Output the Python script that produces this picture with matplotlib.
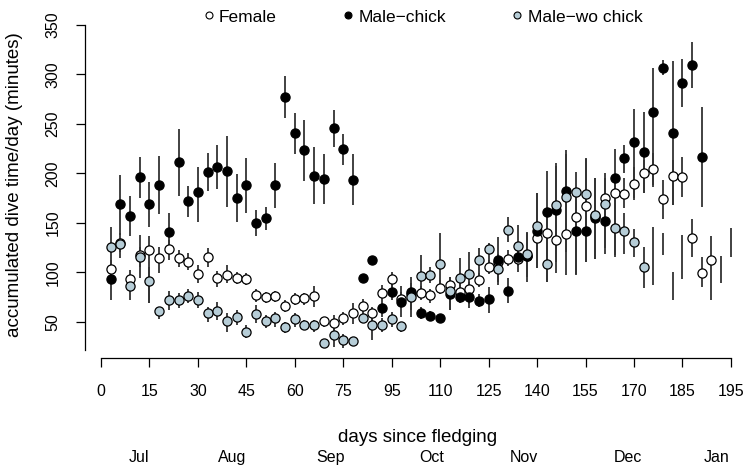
import numpy as np
import matplotlib
matplotlib.use("Agg")
import matplotlib.pyplot as plt
from matplotlib.lines import Line2D

plt.rcParams['font.family'] = ['Liberation Sans', 'DejaVu Sans']

nan = np.nan
days = list(range(3, 198, 3))

female_mean = [103.0, 130, 92.9, 117.5, 122.5, 114.1, 123.5, 114.1, 110.7, 98.6, 115.4, 94.2, 97.3, 94.5, 93.6,
               76.7, 75.3, 76.4, 66.2, 72.7, 73.7, 75.7, 50.7, 49.1, 54.1, 58.5, 65.9, 58.5, 78.7, 92.9, 72.7,
               78, 78.7, 77, 84.4, 87.1, 80.4, 82.8, 92.2, 105.7, 110, 113.8, 113, 116, 135, 140, 132.3, 138.4,
               155.6, 167.3, 157, 175.4, 179.8, 179.1, 188.9, 200.7, 204.1, 173.7, 197.7, 196.7, 134.3, 99.6,
               112.4, nan, nan]
female_lo = [92.2, 120, 85.5, 105.7, 68.6, 98.9, 112.4, 105.7, 102.3, 88.8, 105.7, 85.5, 88.8, 87.8, 87.1,
             70.3, 69.3, 70.3, 60.2, 66.9, 66.9, 64.6, 45, 41.6, 46.7, 47.7, 58.5, 50, 70.3, 85.5, 65,
             72, 72, 69.3, 78, 61.9, 74, 76, 85, 98, 104, 106, 106, 108, 120, 125, 118, 128,
             140, 150, 145, 160, 165, 165, 173, 179.8, 186.5, 153.6, 168, 176.4, 115.1, 85.5,
             72, nan, nan]
female_hi = [112.4, 140, 102.3, 125.9, 136.7, 125.9, 132.6, 122.5, 119.1, 107.4, 124.2, 101.6, 107.4, 100.6, 99,
             82.8, 80.4, 81.4, 72, 78.7, 79.4, 86.1, 55.1, 56.8, 60.2, 69.3, 72.7, 64.6, 87.1, 100.6, 80,
             85, 86, 82.8, 92, 95.6, 88, 90, 99, 112, 118, 122, 120, 124, 150, 158, 148, 150,
             170, 185, 170, 190, 195, 195, 206.8, 213.5, 220.3, 193.3, 213.5, 216.9, 153.5, 115.1,
             136.7, nan, nan]

chick_mean = [93.5, 169, 157.2, 196, 169, 188.2, 141, 211.2, 171.7, 181.2, 201.4, 206.4, 202.1, 175.4, 187.9,
              149.8, 154.5, 188.2, 277.2, 240.5, 223.6, 197.7, 194, 245.5, 224.3, 193.6, 93.9, 112.4, 64.2,
              80.4, 70.3, 80.4, 59.2, 56.1, 53.4, 78, 75.3, 74.7, 71, 72.7, 112.4, 81.4, 115.1, 116.5, 142,
              161.3, 163, 182.5, 141.7, 141.7, 154.6, 151.8, 195.6, 215.2, 231.4, 221.3, 262.4, 306.2, 241.1,
              291, 309.6, 216.9, nan, nan, nan]
chick_lo = [72, 137.7, 136.7, 174.8, 146, 159, 122.5, 177.5, 155.6, 151, 182.2, 183.9, 165.7, 151, 160.3,
            136.7, 142.7, 164.6, 255.6, 219.6, 192.6, 168.7, 168.7, 226.3, 208.5, 168, nan, nan, 55,
            72, 55.1, 62, 53, 51, 50, 70, 68.6, 68, 65, 58.5, 87.1, 68.6, 100, 95, 104,
            90.5, 110, 97.3, 98, 110, 113, 118, 115.8, 200, 174.8, 179.8, 188.2, 299.5, 168,
            266.8, 286, 166.3, nan, nan, nan]
chick_hi = [110, 198.3, 177, 216.9, 191, 217.6, 159.6, 244.8, 187.5, 206.8, 220.3, 228.7, 237.8, 199.4, 215.2,
            163, 166.3, 210.8, 298.4, 260.7, 254, 226.3, 219.6, 264.1, 239.8, 219.6, nan, nan, 70,
            90, 86.1, 95, 65, 61, 57, 86, 81.4, 80, 78, 85.5, 136, 93.9, 130, 140, 180,
            202.4, 210, 223.6, 180, 215, 195, 200, 224.3, 228.7, 264.7, 262.4, 306.2, 314.6, 313.9,
            315.3, 333.1, 267.4, nan, nan, nan]

wo_mean = [125.9, 128.6, 86.5, 115.8, 91.2, 60.8, 72, 72, 76, 72, 59.2, 60.5, 51.1, 55.1, 40,
           57.5, 50.7, 53.4, 44.3, 52.4, 46.7, 46.7, 28.2, 36.6, 31.5, 30.5, 54.1, 46.7, 46.7, 52.4, 45.7,
           74.7, 96.2, 97.2, 108.4, 81.4, 93.9, 97.9, 112.4, 123.5, 103.6, 142.7, 126.9, 118.5, 146.8,
           108.4, 168, 175.8, 180.8, 178.8, 157.9, 169, 144.4, 142, 130.6, 105,
           nan, nan, nan, nan, nan, nan, nan, nan, nan]
wo_lo = [105.7, 114, 72, 93.9, 68.6, 52.4, 61.9, 63.5, 68.6, 63.5, 50, 51.7, 40, 46.7, 33.2,
         48.4, 43.4, 45, 38.3, 45, 41.6, 40, nan, 24.8, 23.1, nan, 49, 31.5, 40, 45, 40,
         55, 75.3, 88.8, 85.5, 62, 75.3, 63.5, 97.2, 105.7, 90, 130.9, 112.4, 90.5, 104,
         90, 99, 120, 97, 110, 113, 125, 117, 118, 115.8, 83.8,
         87.1, 117.5, 72, 92.9, nan, nan, nan, 89.5, 115.1]
wo_hi = [146, 134, 94, 137.7, 105.7, 65.2, 81.4, 79.4, 82.8, 80.4, 65.2, 70.3, 58.5, 61.9, 46.7,
         66.9, 56.8, 60.2, 50.1, 59.2, 51.7, 51.7, nan, 45, 37.9, nan, 59, 53.4, 53.4, 60.2, 50,
         89, 117.5, 105.7, 139.4, 95, 114.1, 120.8, 124.2, 129.9, 118, 155.6, 147.8, 141, 179.8,
         125, 207.4, 220, 201.7, 215.2, 195.6, 195, 170, 160, 143.4, 125.9,
         146, 140, 100, 137.7, nan, nan, nan, 116.5, 144.4]

series_names = ["Female", "Male\u2212chick", "Male\u2212wo chick"]
series_colors = ["white", "black", "#b6cdd7"]

tick_pos = list(range(0, 196, 15))
tick_labels = ["0", "15", "30", "45", "60", "75", "95", "110", "125", "140", "155", "170", "185", "195"]
month_names = ["Jul", "Aug", "Sep", "Oct", "Nov", "Dec", "Jan"]
month_pos = [11.7, 40.6, 71, 102.5, 130.8, 163, 190.5]

W, H = 750, 473
fig = plt.figure(figsize=(W / 100, H / 100), dpi=100)
# axes box in pixels
px_l, px_r, px_t, px_b = 85, 745, 15, 350
ax = fig.add_axes([px_l / W, 1 - px_b / H, (px_r - px_l) / W, (px_b - px_t) / H])

x_per_px = 1 / 3.23
ax.set_xlim((px_l - 101) * x_per_px, (px_r - 101) * x_per_px)
ax.set_ylim(350 - (px_b - 25) / 0.989, 350 - (px_t - 25) / 0.989)

d = np.array(days, dtype=float)
allseries = [(female_mean, female_lo, female_hi), (chick_mean, chick_lo, chick_hi), (wo_mean, wo_lo, wo_hi)]
bar_color = "#333333"
for m, lo, hi in allseries:
    lo = np.array(lo, dtype=float)
    hi = np.array(hi, dtype=float)
    ok = ~np.isnan(lo)
    ax.vlines(d[ok], lo[ok], hi[ok], colors=bar_color, lw=1.3, zorder=2)
for (m, lo, hi), c in zip(allseries, series_colors):
    ax.plot(d, np.array(m, dtype=float), linestyle="none", marker="o", ms=6.6,
            mfc=c, mec="black", mew=0.9, zorder=3)

for s in ["top", "right"]:
    ax.spines[s].set_visible(False)
ax.spines["left"].set_bounds(ax.get_ylim()[0], 350)
ax.spines["bottom"].set_position(("outward", 6))
ax.spines["bottom"].set_bounds(0, 195)
for s in ["left", "bottom"]:
    ax.spines[s].set_linewidth(0.9)

ax.set_yticks([50, 100, 150, 200, 250, 300, 350])
ax.set_yticklabels(["50", "100", "150", "200", "250", "300", "350"], rotation=90, va="center")
ax.set_xticks(tick_pos)
ax.set_xticklabels(tick_labels)
ax.tick_params(axis="y", length=6.5, width=0.9, pad=11, labelsize=11.5)
ax.tick_params(axis="x", length=6.5, width=0.9, pad=12, labelsize=11.5)

fig.text(15 / W, 1 - 185 / H, "accumulated dive time/day (minutes)", rotation=90,
         ha="center", va="center", fontsize=13.5)
fig.text(418 / W, 1 - 437 / H, "days since fledging", ha="center", va="center", fontsize=13.5)
for name, p in zip(month_names, month_pos):
    xp = 101 + p * 3.23
    fig.text(xp / W, 1 - 457 / H, name, ha="center", va="center", fontsize=11.5)

handles = [Line2D([], [], linestyle="none", marker="o", ms=5, mfc=c, mec="black", mew=0.8)
           for c in series_colors]
leg = ax.legend(handles, series_names, ncol=3, frameon=False, loc="center",
                bbox_to_anchor=(423 / W, 1 - 17 / H), bbox_transform=fig.transFigure,
                handlelength=0.6, handletextpad=0.3, columnspacing=3.8, fontsize=12.5,
                borderpad=0, borderaxespad=0)

fig.savefig("out.png", dpi=100)
